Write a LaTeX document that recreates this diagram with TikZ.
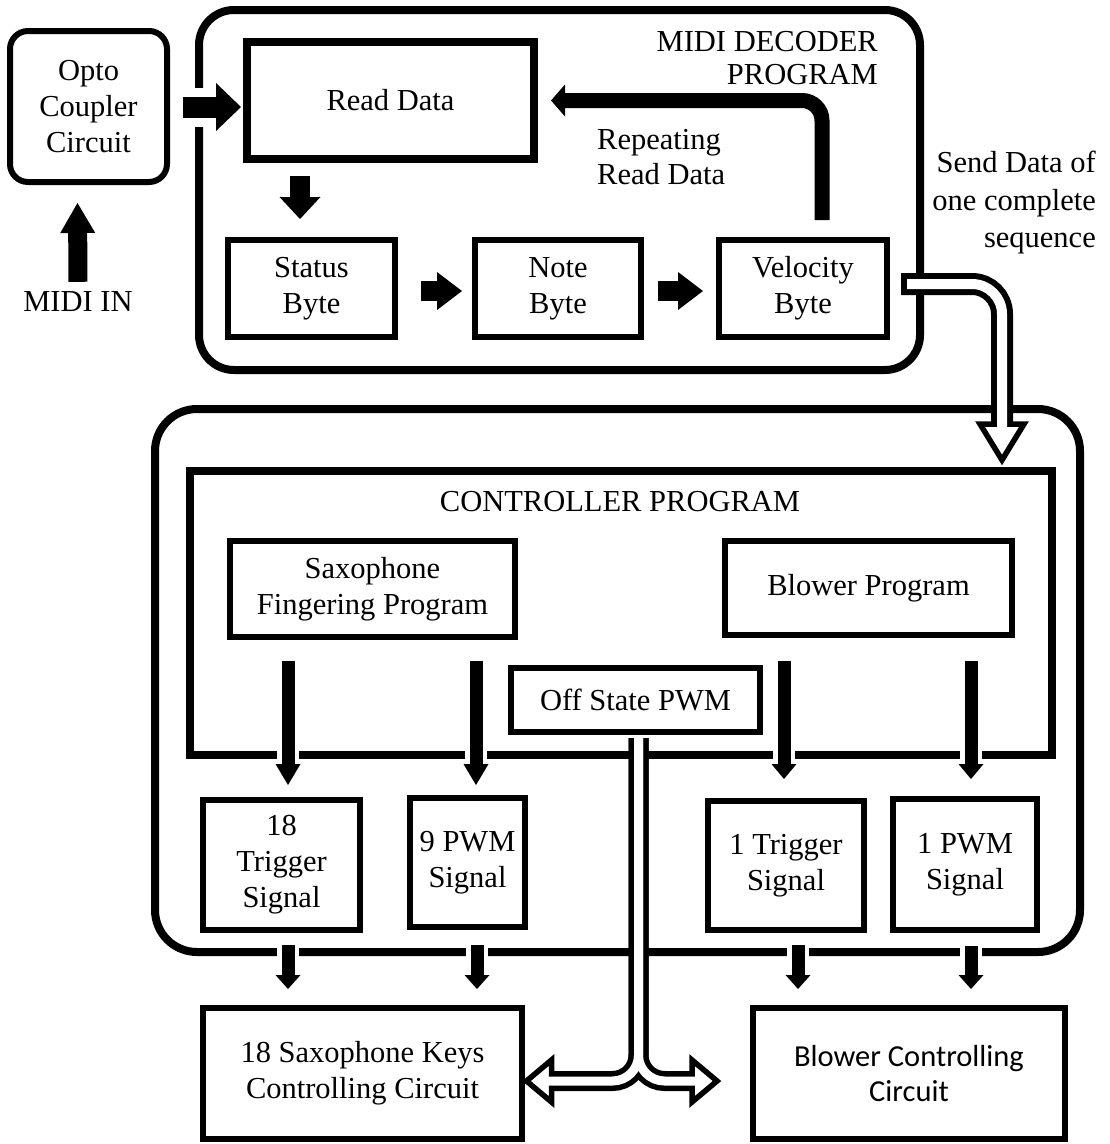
\documentclass[tikz,border=0pt]{standalone}
\usepackage{fontspec}
\setmainfont{Liberation Serif}
\newfontfamily\califont{Carlito}
\usetikzlibrary{arrows.meta}
\begin{document}
\begin{tikzpicture}[x=1pt,y=-1pt,
  font=\fontsize{30.5}{36}\selectfont,
  box/.style={draw, line width=6pt, align=center, inner sep=0pt},
  txt/.style={inner sep=0pt},
  fat/.style n args={3}{line width=#1, -{Triangle[length=#2,width=#3,line width=0pt]}},
  halo/.style={preaction={draw=white, line width=#1}},
  pipeout/.style={line width=#1, line cap=butt},
  hollowhead/.style={draw, fill=white, line width=5.5pt, line join=miter}
]
\useasboundingbox (0,0) rectangle (1110,1144);

% ---------- containers ----------
\node[draw, line width=8pt, rounded corners=35pt, minimum width=721pt, minimum height=360pt] (decoder) at (559.5,190) {};
\node[draw, line width=8pt, rounded corners=42pt, minimum width=925pt, minimum height=543pt] (ctrl) at (617.5,680.5) {};
\node[draw, line width=8pt, minimum width=862pt, minimum height=284pt] (inner) at (621,613) {};

% ---------- boxes ----------
\node[box, rounded corners=18pt, minimum width=157pt, minimum height=151pt] (opto) at (88.5,106.5) {Opto\\Coupler\\Circuit};
\node[txt] (midiin) at (78,302) {MIDI IN};
\node[box, line width=8pt, minimum width=287pt, minimum height=117pt] (read) at (390.5,100.5) {Read Data};
\node[box, minimum width=167pt, minimum height=97pt] (status) at (311.5,288.5) {Status\\Byte};
\node[box, minimum width=166pt, minimum height=97pt] (note) at (558,288.5) {Note\\Byte};
\node[box, minimum width=168pt, minimum height=97pt] (vel) at (803,288.5) {Velocity\\Byte};

\node[txt, align=right, anchor=east, font=\fontsize{30.5}{33}\selectfont] (dectitle) at (878,58) {MIDI DECODER\\PROGRAM};
\node[txt, align=left, anchor=west, font=\fontsize{30.5}{35}\selectfont] (rep) at (597,157) {Repeating\\Read Data};
\node[txt, align=right, anchor=east, font=\fontsize{30.5}{37.5}\selectfont] (send) at (1096,203) {Send Data of\\one complete\\sequence};

\node[txt] (ctitle) at (620,502) {CONTROLLER PROGRAM};
\node[box, minimum width=285pt, minimum height=96pt] (sax) at (372.5,589) {Saxophone\\Fingering Program};
\node[box, minimum width=287pt, minimum height=94pt] (bprog) at (868.5,588) {Blower Program};
\node[box, fill=white, minimum width=249pt, minimum height=64pt] (off) at (635.5,700) {Off State PWM};

\node[box, minimum width=157pt, minimum height=130pt] (trig18) at (281.5,865) {18\\Trigger\\Signal};
\node[box, minimum width=115pt, minimum height=129pt] (pwm9) at (467.5,862.5) {9 PWM\\Signal};
\node[box, minimum width=156pt, minimum height=129pt] (trig1) at (786,865.5) {1 Trigger\\Signal};
\node[box, minimum width=144pt, minimum height=131pt] (pwm1) at (965,864.5) {1 PWM\\Signal};

\node[box, minimum width=319pt, minimum height=131pt] (keys) at (362.5,1073.5) {18 Saxophone Keys\\Controlling Circuit};
\node[box, minimum width=312pt, minimum height=131pt, font=\califont\fontsize{30.5}{35}\selectfont] (bctrl) at (909,1073.5) {Blower Controlling\\Circuit};

% ---------- solid arrows ----------
\draw[fat={19pt}{30pt}{35pt}] ([xshift=0pt,yshift=10pt]midiin.north) -- ([xshift=-11pt,yshift=-18pt]opto.south);
\draw[fat={21pt}{25pt}{48pt}, halo=39pt] ([xshift=13pt,yshift=-0.5pt]opto.east) -- ([xshift=-2pt,yshift=-6.5pt]read.west);
\draw[fat={20pt}{22pt}{41pt}] ([xshift=-90.5pt,yshift=-13pt]read.south) -- ([xshift=-11.5pt,yshift=18pt]status.north);
\draw[fat={20pt}{25pt}{38pt}] ([xshift=23pt,yshift=-2.5pt]status.east) -- ([xshift=-10pt,yshift=-2.5pt]note.west);
\draw[fat={20pt}{25pt}{38pt}] ([xshift=14pt,yshift=-2.5pt]note.east) -- ([xshift=-13pt,yshift=-2.5pt]vel.west);
\draw[fat={15pt}{14pt}{32pt}, rounded corners=20pt] ([xshift=19pt,yshift=17pt]vel.north) |- ([xshift=13pt]read.east);

\draw[fat={13pt}{21pt}{25pt}, halo=22pt] ([xshift=-84.5pt,yshift=-21pt]sax.south) -- ([xshift=6.5pt,yshift=12pt]trig18.north);
\draw[fat={13pt}{21pt}{25pt}, halo=22pt] ([xshift=103.5pt,yshift=-21pt]sax.south) -- ([xshift=8.5pt,yshift=10pt]pwm9.north);
\draw[fat={13pt}{15pt}{25pt}, halo=22pt] ([xshift=-84.5pt,yshift=-23pt]bprog.south) -- ([xshift=-2pt,yshift=19pt]trig1.north);
\draw[fat={13pt}{15pt}{25pt}, halo=22pt] ([xshift=102.5pt,yshift=-23pt]bprog.south) -- ([xshift=6pt,yshift=17pt]pwm1.north);

\draw[fat={13pt}{14pt}{25pt}, halo=22pt] ([xshift=6.5pt,yshift=-12pt]trig18.south) -- ([xshift=-74.5pt,yshift=16pt]keys.north);
\draw[fat={13pt}{14pt}{25pt}, halo=22pt] ([xshift=9.5pt,yshift=-15pt]pwm9.south) -- ([xshift=114.5pt,yshift=16pt]keys.north);
\draw[fat={13pt}{14pt}{25pt}, halo=22pt] ([xshift=12pt,yshift=-12pt]trig1.south) -- ([xshift=-111pt,yshift=16pt]bctrl.north);
\draw[fat={13pt}{14pt}{25pt}, halo=22pt] ([xshift=6pt,yshift=-13pt]pwm1.south) -- ([xshift=62pt,yshift=16pt]bctrl.north);

% ---------- hollow pipe: velocity -> controller ----------
\coordinate (p0) at ([xshift=11pt,yshift=4.5pt]vel.east);
\coordinate (p1) at (1002,424);
\draw[pipeout=22pt, rounded corners=30pt] (p0) -| (p1);
\draw[hollowhead] (980,424) -- (1024,424) -- (1002,460) -- cycle;
\draw[pipeout=10pt, white, rounded corners=30pt] ([xshift=6pt]p0) -| ([yshift=-5pt]p1);

% ---------- hollow pipe: off state PWM -> both circuits ----------
\coordinate (q0) at ([xshift=3pt,yshift=-3pt]off.south);
\coordinate (qL) at ([xshift=-5.5pt,yshift=-7.5pt]keys.east);
\coordinate (qR) at ([xshift=-33pt,yshift=-7.5pt]bctrl.west);
\draw[pipeout=20pt, rounded corners=26pt] (q0) |- ([xshift=32pt]qL);
\draw[pipeout=20pt, rounded corners=26pt] (q0) |- ([xshift=-25pt]qR);
\draw[hollowhead] ([xshift=32pt,yshift=21pt]qL) -- ([xshift=32pt,yshift=-21pt]qL) -- ([xshift=7pt]qL) -- cycle;
\draw[hollowhead] ([xshift=-25pt,yshift=21pt]qR) -- ([xshift=-25pt,yshift=-21pt]qR) -- (qR) -- cycle;
\draw[pipeout=9pt, white, rounded corners=26pt] (q0) |- ([xshift=28pt]qL);
\draw[pipeout=9pt, white, rounded corners=26pt] (q0) |- ([xshift=-21pt]qR);
\end{tikzpicture}
\end{document}
